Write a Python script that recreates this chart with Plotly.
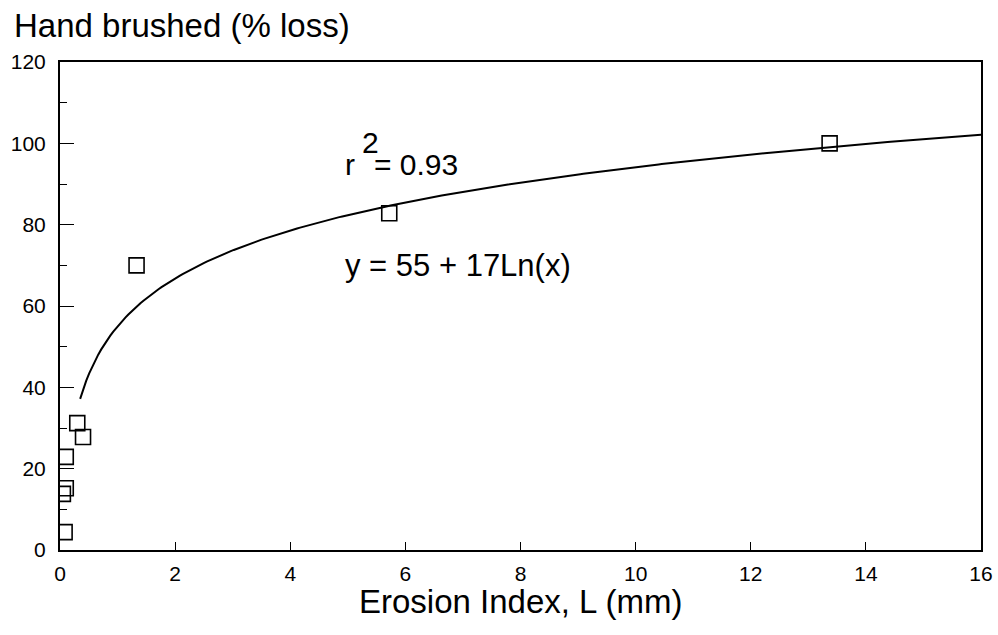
import numpy as np
import plotly.graph_objects as go

# Data
erosion_index = [0.08, 0.05, 0.10, 0.10, 0.30, 0.40, 1.33, 5.72, 13.37]
pct_loss = [4.4, 13.8, 15.2, 22.9, 31.2, 27.8, 70.0, 82.8, 100.0]

# Fit shown on the chart: y = a + b*ln(x)
fit_a = 55
fit_b = 17
fit_x_start = 0.35
fit_x_end = 16.0

x_ticks = [0, 2, 4, 6, 8, 10, 12, 14, 16]
y_ticks = [0, 20, 40, 60, 80, 100, 120]
y_minor_ticks = [10, 30, 50, 70, 90, 110]

fit_x = np.linspace(fit_x_start, fit_x_end, 300)
fit_y = fit_a + fit_b * np.log(fit_x)

FONT = "Liberation Sans, Arial, sans-serif"

fig = go.Figure()
fig.add_trace(go.Scatter(
    x=fit_x, y=fit_y, mode="lines",
    line=dict(color="black", width=2), hoverinfo="skip", showlegend=False))
fig.add_trace(go.Scatter(
    x=erosion_index, y=pct_loss, mode="markers",
    marker=dict(symbol="square-open", size=15, color="black",
                line=dict(width=1.6, color="black")),
    showlegend=False))

fig.update_layout(
    width=998, height=635,
    margin=dict(l=60, r=17, t=62, b=85),
    paper_bgcolor="white", plot_bgcolor="white",
    font=dict(family=FONT, color="black"),
    xaxis=dict(range=[0, 16], tickvals=x_ticks, ticks="inside", ticklen=8,
               tickwidth=1, tickcolor="black",
               showline=True, linecolor="black", linewidth=2, mirror=True,
               showgrid=False, zeroline=False, tickfont=dict(size=21),
               ticklabelstandoff=4, automargin=False),
    yaxis=dict(range=[0, 120], tickvals=y_ticks, ticks="inside", ticklen=14,
               tickwidth=1, tickcolor="black",
               showline=True, linecolor="black", linewidth=2, mirror=True,
               showgrid=False, zeroline=False, tickfont=dict(size=21),
               ticklabelstandoff=8,
               automargin=False,
               minor=dict(tickvals=y_minor_ticks, ticks="inside",
                          ticklen=7, tickcolor="black", tickwidth=1, showgrid=False)),
)

fig.add_annotation(x=0.5, y=0, xref="paper", yref="paper", yshift=-51,
                   text="Erosion Index, L (mm)", showarrow=False,
                   xanchor="center", yanchor="middle", font=dict(size=33))
fig.add_annotation(x=0, y=1.0, xref="paper", yref="paper", xshift=-48, yshift=37,
                   text="Hand brushed (% loss)", showarrow=False,
                   xanchor="left", yanchor="middle", font=dict(size=33))
fig.add_annotation(x=4.92, y=94.7, text="r", showarrow=False,
                   xanchor="left", yanchor="middle", font=dict(size=30))
fig.add_annotation(x=5.42, y=94.7, text="= 0.93", showarrow=False,
                   xanchor="left", yanchor="middle", font=dict(size=30))
fig.add_annotation(x=5.22, y=100.3, text="2", showarrow=False,
                   xanchor="left", yanchor="middle", font=dict(size=30))
fig.add_annotation(x=4.92, y=70, text="y = 55 + 17Ln(x)", showarrow=False,
                   xanchor="left", yanchor="middle", font=dict(size=31))

fig.write_html("out.html", config={"displayModeBar": False},
               post_script="document.body.style.margin='0';")
